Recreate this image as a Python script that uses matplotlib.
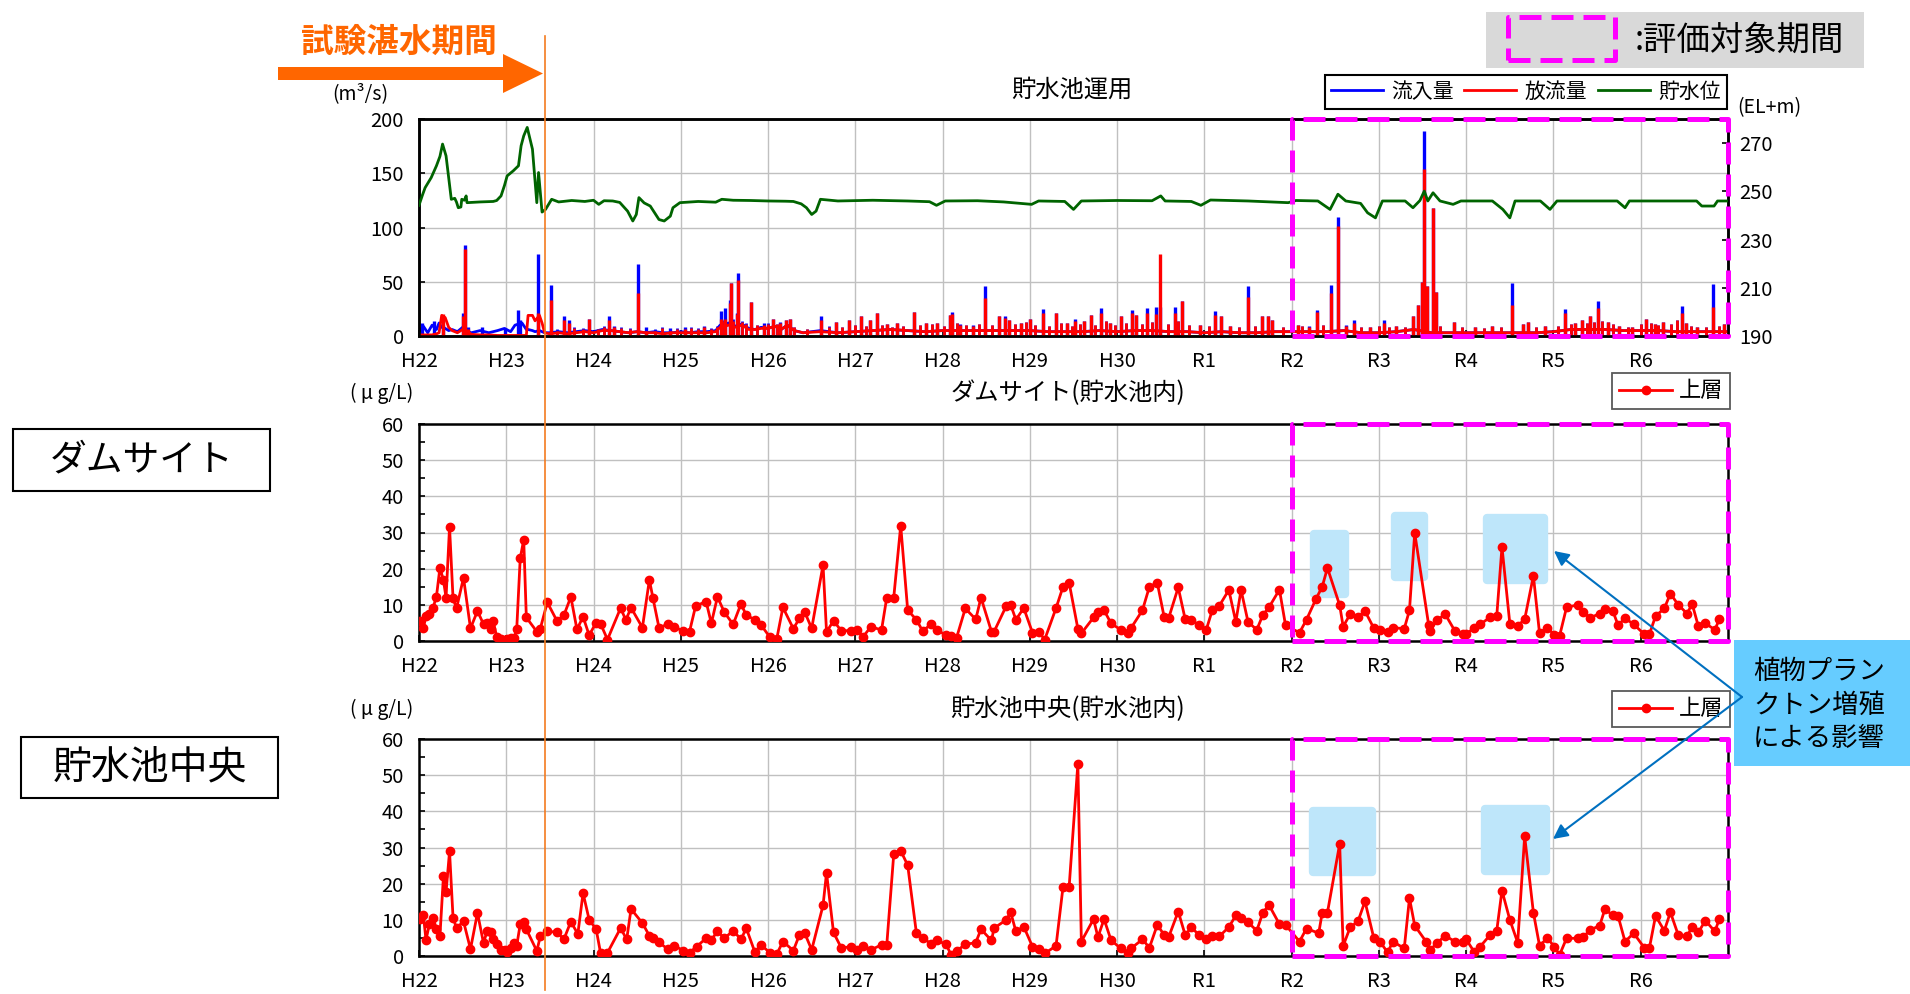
import matplotlib
matplotlib.use("Agg")
import matplotlib.pyplot as plt
from matplotlib.patches import Rectangle, FancyArrow, FancyArrowPatch
from matplotlib.lines import Line2D

plt.rcParams["font.family"] = ["Noto Sans CJK JP", "DejaVu Sans"]

W, H = 1910, 994


def fx(px):
    return px / W


def fy(py):
    return 1 - py / H


# ---------------------------------------------------------------- data
# x values are years counted from the start of H22
year_labels = ["H22", "H23", "H24", "H25", "H26", "H27", "H28", "H29", "H30",
               "R1", "R2", "R3", "R4", "R5", "R6"]

# daily flow, background level (m3/s)
flow_t = [0.00, 0.05, 0.10, 0.15, 0.20, 0.23, 0.26, 0.30, 0.34, 0.38,
          0.44, 0.50, 0.56, 0.60, 0.70, 0.80, 0.90, 0.98, 1.05, 1.10,
          1.18, 1.23, 1.25, 1.30, 1.33, 1.38, 1.41, 1.44, 1.50, 1.60,
          1.70, 1.80, 1.90, 2.00, 2.10, 2.20, 2.30, 2.40, 2.50, 2.60,
          2.70, 2.80, 2.90, 3.00, 3.10, 3.20, 3.30, 3.40, 3.45, 3.55,
          3.62, 3.70, 3.78, 3.85, 3.92, 4.00, 4.08, 4.15, 4.22, 4.30,
          4.40, 4.60, 4.80, 5.00, 5.20, 5.40, 5.60, 5.80, 6.00, 6.20,
          6.40, 6.60, 6.80, 7.00, 7.20, 7.40, 7.60, 7.80, 8.00, 8.20,
          8.40, 8.60, 8.80, 9.00, 9.20, 9.40, 9.60, 9.80, 10.00, 10.20,
          10.40, 10.60, 10.80, 11.00, 11.20, 11.40, 11.60, 11.80, 12.00, 12.20,
          12.40, 12.60, 12.80, 13.00, 13.20, 13.40, 13.60, 13.80, 14.00, 14.20,
          14.40, 14.60, 14.80, 15.00]
inflow_base = [4, 9, 3, 10, 6, 12, 8, 7, 5, 6,
               4, 8, 4, 3, 5, 3, 5, 7, 4, 10,
               12, 6, 6, 5, 4, 5, 4, 3, 3, 4,
               3, 4, 5, 4, 6, 5, 4, 3, 4, 3,
               4, 3, 3, 4, 3, 4, 4, 5, 10, 12,
               9, 11, 7, 6, 8, 7, 9, 6, 10, 5,
               3, 5, 3, 4, 5, 6, 5, 4, 5, 5,
               5, 5, 5, 5, 4, 4, 4, 5, 4, 5,
               5, 4, 4, 3, 4, 3, 3, 4, 4, 4,
               4, 5, 3, 3, 4, 6, 3, 3, 3, 3,
               3, 3, 3, 4, 6, 6, 6, 5, 5, 5,
               4, 4, 4, 4]
outflow_base = [1, 1, 1, 1, 2, 3, 19, 17, 8, 5,
                3, 6, 4, 1.5, 1, 1, 0.5, 0.5, 0.5, 0.5,
                0.5, 0.5, 19, 19, 14, 19, 12, 3, 2, 3,
                2, 3, 4, 3, 5, 5, 4, 3, 4, 3,
                3, 2, 3, 3, 3, 3, 3, 4, 8, 10,
                8, 10, 6, 6, 7, 7, 9, 6, 10, 5,
                3, 4, 3, 4, 5, 6, 5, 4, 5, 5,
                5, 5, 5, 5, 4, 4, 4, 5, 4, 5,
                5, 4, 4, 3, 4, 3, 3, 4, 4, 4,
                4, 5, 3, 3, 4, 6, 3, 3, 3, 3,
                3, 3, 3, 4, 6, 6, 6, 5, 5, 5,
                4, 4, 4, 4]

# flood peaks (m3/s)
peak_t = [0.04, 0.17, 0.28, 0.50, 0.53, 0.56, 0.72, 0.98, 1.13, 1.16,
          1.36, 1.51, 1.66, 1.72, 1.95, 2.18, 2.24, 2.51, 2.60, 2.88,
          3.05, 3.27, 3.46, 3.51, 3.56, 3.57, 3.64, 3.66, 3.81, 3.95,
          4.06, 4.14, 4.21, 4.25, 4.61, 4.78, 4.93, 5.06, 5.17, 5.25,
          5.36, 5.48, 5.67, 5.81, 5.94, 6.08, 6.11, 6.20, 6.35, 6.49,
          6.65, 6.71, 6.76, 6.90, 7.00, 7.15, 7.30, 7.42, 7.52, 7.62,
          7.70, 7.81, 7.92, 8.05, 8.17, 8.22, 8.34, 8.45, 8.49, 8.66,
          8.74, 8.95, 9.12, 9.19, 9.29, 9.50, 9.66, 9.73, 9.77, 10.07,
          10.20, 10.29, 10.45, 10.53, 10.62, 10.71, 10.90, 11.06, 11.20, 11.39,
          11.45, 11.49, 11.52, 11.55, 11.62, 11.65, 11.86, 12.10, 12.30, 12.53,
          12.65, 12.71, 12.90, 13.13, 13.25, 13.33, 13.42, 13.51, 13.62, 13.75,
          13.90, 14.06, 14.16, 14.25, 14.47, 14.52, 14.65, 14.83, 14.95]
inflow_peak = [12, 14, 10, 21, 84, 8, 8, 6, 24, 15,
               76, 47, 18, 15, 16, 18, 9, 66, 8, 7,
               8, 9, 23, 26, 33, 49, 21, 58, 31, 12,
               16, 13, 15, 16, 18, 13, 15, 18, 15, 21,
               11, 12, 22, 12, 12, 19, 22, 11, 10, 46,
               18, 18, 15, 12, 16, 25, 21, 12, 16, 14,
               19, 26, 12, 18, 24, 19, 26, 27, 27, 27,
               32, 10, 23, 18, 9, 46, 18, 18, 15, 10,
               9, 24, 47, 110, 10, 15, 8, 15, 9, 18,
               29, 50, 189, 46, 118, 41, 13, 8, 9, 49,
               11, 13, 9, 25, 12, 15, 18, 32, 13, 9,
               8, 16, 11, 13, 28, 12, 8, 48, 11]
outflow_peak = [0, 3, 20, 18, 80, 6, 1, 0, 1, 1,
                21, 33, 15, 12, 16, 15, 8, 40, 5, 5,
                6, 8, 16, 16, 30, 49, 20, 52, 31, 10,
                16, 12, 15, 16, 15, 13, 15, 18, 15, 21,
                11, 12, 22, 12, 12, 19, 20, 10, 9, 35,
                18, 17, 15, 12, 16, 21, 21, 12, 14, 14,
                19, 21, 12, 18, 21, 19, 21, 20, 76, 21,
                32, 10, 19, 18, 9, 36, 18, 18, 15, 10,
                8, 22, 40, 101, 9, 12, 8, 12, 9, 18,
                29, 50, 154, 46, 118, 41, 13, 8, 9, 29,
                11, 13, 9, 21, 12, 15, 18, 26, 13, 9,
                8, 16, 11, 13, 21, 12, 8, 27, 11]

# smaller freshets (m3/s)
fresh_t = [1.58, 1.78, 1.88, 2.05, 2.12, 2.32, 2.42, 2.70, 2.78, 2.96,
           3.12, 3.20, 3.35, 3.41, 3.49, 3.60, 3.70, 3.75, 3.87, 4.00,
           4.10, 4.30, 4.45, 4.70, 4.85, 5.00, 5.12, 5.30, 5.42, 5.55,
           5.74, 5.88, 6.02, 6.16, 6.27, 6.42, 6.57, 6.83, 6.95, 7.06,
           7.22, 7.36, 7.48, 7.57, 7.75, 7.87, 7.97, 8.10, 8.28, 8.40,
           8.58, 8.70, 8.82, 9.05, 9.40, 9.58, 9.90, 10.12, 10.36, 10.80,
           11.00, 11.12, 11.30, 11.70, 11.95, 12.20, 12.40, 12.80, 13.05, 13.20,
           13.38, 13.47, 13.56, 13.68, 13.85, 14.00, 14.12, 14.20, 14.35, 14.42,
           14.58, 14.75, 14.90]
fresh_in = [6, 8, 7, 6, 9, 8, 7, 6, 8, 7,
            8, 7, 7, 9, 15, 16, 14, 12, 10, 12,
            11, 8, 6, 9, 8, 10, 9, 10, 8, 9,
            10, 11, 9, 12, 10, 11, 10, 11, 13, 10,
            9, 12, 9, 11, 10, 14, 10, 12, 11, 13,
            11, 14, 10, 9, 8, 9, 8, 9, 10, 8,
            9, 8, 8, 9, 8, 7, 8, 8, 9, 11,
            12, 13, 14, 11, 8, 11, 12, 10, 11, 15,
            9, 8, 9]
fresh_out = [5, 7, 6, 6, 8, 7, 6, 5, 7, 6,
             7, 6, 6, 8, 14, 14, 13, 11, 10, 11,
             11, 8, 6, 8, 8, 10, 9, 10, 8, 9,
             10, 11, 9, 12, 10, 11, 10, 11, 13, 10,
             9, 12, 9, 11, 10, 14, 10, 12, 11, 13,
             11, 14, 10, 9, 8, 9, 8, 9, 10, 8,
             9, 8, 8, 9, 8, 7, 8, 8, 9, 11,
             12, 13, 14, 11, 8, 11, 12, 10, 11, 15,
             9, 8, 9]

# reservoir water level (EL+m)
level_t = [0.00, 0.04, 0.07, 0.14, 0.20, 0.24, 0.27, 0.31, 0.37, 0.41,
           0.43, 0.45, 0.48, 0.49, 0.52, 0.54, 0.55, 0.70, 0.85, 0.89,
           0.94, 0.98, 1.01, 1.08, 1.14, 1.17, 1.20, 1.24, 1.27, 1.30,
           1.35, 1.37, 1.41, 1.45, 1.52, 1.60, 1.75, 1.90, 2.00, 2.06,
           2.12, 2.22, 2.30, 2.39, 2.45, 2.49, 2.52, 2.58, 2.65, 2.75,
           2.81, 2.88, 2.91, 2.99, 3.20, 3.40, 3.47, 3.60, 3.80, 4.00,
           4.20, 4.29, 4.38, 4.44, 4.50, 4.55, 4.60, 4.80, 5.20, 5.60,
           5.85, 5.93, 6.03, 6.40, 6.70, 7.02, 7.10, 7.40, 7.50, 7.59,
           8.00, 8.40, 8.50, 8.55, 8.85, 8.96, 9.07, 9.50, 9.96, 10.05,
           10.30, 10.44, 10.53, 10.62, 10.79, 10.87, 10.96, 11.04, 11.30, 11.39,
           11.47, 11.52, 11.56, 11.62, 11.70, 11.85, 11.94, 12.30, 12.42, 12.50,
           12.56, 12.85, 12.96, 13.04, 13.73, 13.82, 13.87, 14.64, 14.70, 14.84,
           14.88, 15.00]
level = [244.2, 248.5, 251.5, 255.7, 260.6, 264.5, 269.6, 264.7, 246.7, 247.1,
         245.5, 243.2, 243.5, 246.7, 246.3, 248.1, 245.3, 245.6, 245.8, 246.2,
         248.1, 252.5, 256.4, 258.5, 260.6, 268.9, 273.0, 276.5, 272.0, 267.5,
         245.3, 257.8, 241.4, 242.5, 246.7, 245.6, 246.2, 245.8, 246.3, 244.6,
         246.1, 246.0, 245.4, 241.8, 237.7, 240.4, 247.4, 245.2, 243.9, 238.3,
         237.7, 239.7, 243.2, 245.3, 245.8, 245.5, 246.7, 246.3, 246.2, 246.0,
         245.9, 245.8, 244.8, 243.2, 240.4, 241.8, 246.7, 246.0, 246.3, 246.0,
         245.7, 244.2, 246.0, 246.1, 245.6, 244.6, 246.0, 245.8, 242.5, 246.0,
         246.2, 246.1, 248.1, 246.0, 245.8, 244.2, 246.4, 246.0, 245.3, 246.2,
         246.0, 242.5, 248.8, 246.0, 245.0, 241.1, 239.0, 246.0, 246.0, 243.2,
         246.2, 250.1, 246.0, 249.4, 246.0, 244.6, 246.0, 246.0, 242.5, 239.0,
         246.0, 246.0, 242.5, 246.0, 246.0, 243.2, 246.0, 246.0, 243.9, 243.9,
         246.0, 246.0]

# chlorophyll a, surface layer at the dam site (ug/L)
dam_t = [0.01, 0.05, 0.08, 0.12, 0.16, 0.20, 0.24, 0.28, 0.31, 0.35,
         0.39, 0.43, 0.51, 0.59, 0.67, 0.74, 0.78, 0.82, 0.85, 0.89,
         0.94, 1.01, 1.05, 1.09, 1.12, 1.16, 1.20, 1.23, 1.35, 1.39,
         1.47, 1.58, 1.66, 1.74, 1.81, 1.88, 1.95, 2.03, 2.08, 2.16,
         2.31, 2.37, 2.43, 2.56, 2.64, 2.68, 2.75, 2.85, 2.92, 3.02,
         3.10, 3.17, 3.29, 3.35, 3.42, 3.50, 3.60, 3.69, 3.75, 3.85,
         3.92, 4.02, 4.10, 4.17, 4.29, 4.36, 4.42, 4.50, 4.63, 4.67,
         4.75, 4.84, 4.95, 5.02, 5.09, 5.18, 5.30, 5.36, 5.44, 5.52,
         5.60, 5.70, 5.77, 5.87, 5.94, 6.04, 6.10, 6.16, 6.26, 6.38,
         6.44, 6.56, 6.59, 6.73, 6.78, 6.84, 6.93, 7.03, 7.10, 7.17,
         7.30, 7.38, 7.45, 7.55, 7.59, 7.73, 7.78, 7.85, 7.93, 8.04,
         8.12, 8.16, 8.29, 8.37, 8.46, 8.54, 8.59, 8.70, 8.78, 8.85,
         8.94, 9.02, 9.09, 9.17, 9.28, 9.36, 9.42, 9.50, 9.60, 9.67,
         9.74, 9.86, 9.93, 10.09, 10.17, 10.28, 10.35, 10.41, 10.55, 10.59,
         10.67, 10.76, 10.84, 10.94, 11.01, 11.10, 11.16, 11.29, 11.35, 11.41,
         11.57, 11.59, 11.66, 11.76, 11.87, 11.96, 12.00, 12.09, 12.16, 12.27,
         12.35, 12.41, 12.50, 12.59, 12.67, 12.77, 12.84, 12.93, 13.01, 13.07,
         13.15, 13.28, 13.34, 13.42, 13.53, 13.59, 13.68, 13.74, 13.82, 13.92,
         14.04, 14.10, 14.17, 14.27, 14.34, 14.43, 14.53, 14.59, 14.66, 14.74,
         14.85, 14.90]
dam_chl = [5.4, 3.5, 6.9, 7.6, 9.1, 12.3, 20.3, 16.8, 12.0, 31.5,
           11.8, 9.0, 17.5, 3.5, 8.3, 4.6, 5.1, 3.4, 5.5, 1.2,
           0.6, 0.6, 0.9, 0.7, 3.4, 22.9, 28.0, 6.5, 2.6, 3.4,
           10.7, 5.6, 7.1, 12.2, 3.2, 6.7, 1.6, 5.1, 4.8, 0.4,
           9.1, 5.8, 9.2, 3.7, 16.9, 12.0, 3.7, 4.6, 4.0, 2.8,
           2.6, 9.7, 10.9, 4.9, 12.2, 7.9, 4.6, 10.3, 7.1, 5.9,
           4.4, 1.1, 0.6, 9.3, 3.4, 6.3, 8.0, 3.5, 21.0, 2.5,
           5.6, 2.8, 2.9, 3.0, 1.2, 4.0, 3.0, 12.0, 12.0, 31.9,
           8.5, 5.9, 2.8, 4.6, 3.0, 1.6, 1.3, 0.9, 9.0, 6.0,
           12.0, 2.6, 2.6, 9.7, 10.0, 5.9, 9.1, 2.3, 2.6, 0.4,
           9.1, 15.0, 16.1, 3.4, 2.1, 6.5, 8.1, 8.5, 4.9, 3.1,
           2.2, 3.6, 8.5, 15.0, 16.1, 6.5, 6.3, 14.8, 6.0, 5.8,
           4.4, 3.0, 8.5, 9.7, 14.1, 5.3, 14.1, 5.3, 3.1, 7.2,
           9.3, 14.2, 4.3, 2.3, 5.9, 11.7, 15.0, 20.2, 9.9, 4.0,
           7.4, 6.6, 8.3, 3.6, 3.1, 2.4, 3.7, 3.4, 8.5, 29.9,
           4.4, 2.7, 5.7, 7.4, 2.8, 1.8, 1.9, 3.6, 4.6, 6.5,
           6.9, 26.0, 4.8, 4.2, 6.0, 18.0, 2.2, 3.7, 1.7, 1.4,
           9.3, 10.0, 8.1, 6.4, 7.6, 8.8, 8.3, 4.4, 6.3, 4.6,
           1.9, 1.9, 6.9, 9.0, 13.1, 10.0, 7.6, 10.2, 4.1, 4.9,
           3.1, 6.0]

# chlorophyll a, surface layer at the reservoir centre (ug/L)
centre_t = [0.01, 0.05, 0.08, 0.12, 0.16, 0.20, 0.24, 0.28, 0.31, 0.35,
            0.39, 0.43, 0.51, 0.59, 0.67, 0.74, 0.78, 0.82, 0.85, 0.89,
            0.94, 0.98, 1.01, 1.05, 1.09, 1.12, 1.16, 1.20, 1.23, 1.35,
            1.39, 1.47, 1.58, 1.66, 1.74, 1.82, 1.88, 1.95, 2.03, 2.08,
            2.16, 2.31, 2.38, 2.43, 2.56, 2.64, 2.68, 2.75, 2.85, 2.92,
            3.03, 3.10, 3.18, 3.29, 3.35, 3.42, 3.50, 3.60, 3.69, 3.75,
            3.85, 3.92, 4.02, 4.10, 4.17, 4.29, 4.36, 4.42, 4.50, 4.63,
            4.67, 4.75, 4.84, 4.95, 5.02, 5.09, 5.18, 5.30, 5.36, 5.44,
            5.52, 5.60, 5.70, 5.77, 5.87, 5.94, 6.04, 6.10, 6.16, 6.26,
            6.38, 6.44, 6.56, 6.59, 6.73, 6.78, 6.84, 6.93, 7.03, 7.10,
            7.17, 7.30, 7.38, 7.45, 7.55, 7.59, 7.73, 7.78, 7.85, 7.93,
            8.04, 8.12, 8.16, 8.29, 8.37, 8.46, 8.54, 8.59, 8.70, 8.78,
            8.85, 8.94, 9.02, 9.09, 9.17, 9.28, 9.36, 9.42, 9.50, 9.60,
            9.67, 9.74, 9.86, 9.93, 10.09, 10.17, 10.31, 10.35, 10.41, 10.55,
            10.59, 10.67, 10.76, 10.84, 10.94, 11.01, 11.10, 11.16, 11.29, 11.35,
            11.41, 11.54, 11.59, 11.66, 11.76, 11.87, 11.96, 12.00, 12.09, 12.16,
            12.27, 12.35, 12.41, 12.50, 12.59, 12.67, 12.77, 12.84, 12.93, 13.01,
            13.07, 13.15, 13.28, 13.34, 13.42, 13.53, 13.59, 13.68, 13.74, 13.82,
            13.92, 14.04, 14.10, 14.17, 14.27, 14.34, 14.43, 14.53, 14.59, 14.66,
            14.74, 14.85, 14.90]
centre_chl = [10.2, 11.3, 4.5, 8.8, 10.5, 7.6, 5.6, 22.0, 17.7, 28.9,
              10.6, 7.7, 9.6, 1.9, 11.9, 3.5, 7.0, 6.5, 4.6, 3.2,
              1.7, 1.7, 1.2, 2.1, 3.5, 2.9, 8.8, 9.4, 7.4, 1.4,
              5.4, 6.8, 6.6, 4.6, 9.5, 6.1, 17.4, 10.0, 7.4, 0.9,
              0.9, 7.7, 4.6, 13.0, 9.1, 5.6, 5.1, 3.8, 1.9, 2.9,
              1.5, 0.9, 2.6, 4.9, 4.4, 6.9, 4.9, 7.0, 4.6, 7.7,
              1.0, 3.1, 0.9, 0.5, 4.0, 1.5, 5.9, 6.3, 1.7, 14.0,
              23.0, 6.5, 2.2, 2.6, 1.7, 2.9, 1.7, 3.1, 3.0, 28.1,
              29.1, 25.1, 6.3, 5.1, 3.3, 4.3, 3.2, 0.2, 1.4, 3.2,
              3.7, 7.4, 4.3, 7.7, 10.0, 12.1, 6.8, 8.1, 2.6, 1.9,
              0.7, 2.8, 19.1, 19.1, 53.1, 4.0, 10.2, 5.2, 10.2, 4.4,
              2.1, 0.7, 2.1, 4.6, 2.3, 8.6, 5.8, 5.2, 12.3, 5.8,
              7.9, 5.8, 4.6, 5.6, 5.4, 8.0, 11.2, 10.4, 9.3, 7.0,
              12.0, 14.1, 8.8, 8.6, 4.0, 7.6, 6.3, 12.0, 12.0, 31.0,
              2.8, 7.9, 9.6, 15.1, 5.1, 4.0, 1.0, 4.0, 2.1, 16.0,
              8.4, 4.0, 1.7, 3.5, 5.6, 4.0, 4.0, 4.6, 1.2, 2.6,
              5.7, 7.0, 18.1, 10.0, 3.7, 33.1, 12.0, 2.9, 4.9, 2.6,
              0.3, 4.9, 4.9, 5.2, 7.2, 8.4, 13.0, 11.2, 11.1, 4.0,
              6.3, 2.3, 2.3, 11.1, 7.0, 12.1, 5.8, 5.4, 8.1, 6.5,
              9.8, 6.8, 10.2]

# periods
test_fill_end = 1.43          # end of trial impoundment
eval_start, eval_end = 10, 15  # evaluation period R2-R6

# ---------------------------------------------------------------- styles
BLUE = "#0000FF"
RED = "#FF0000"
GREEN = "#006400"
MAGENTA = "#FF00FF"
ORANGE = "#FF6600"
LIGHT = "#BEE6FA"
CALLOUT = "#66CCFF"
ARROW_BLUE = "#0070C0"
DASH = (0, (4.4, 2.0))
TICK_SIZE = 14.5
TITLE_SIZE = 17.5

fig = plt.figure(figsize=(W / 100, H / 100), dpi=100)

LEFT, RIGHT = 419, 1728


def axes_box(top, bottom):
    return [fx(LEFT), fy(bottom), (RIGHT - LEFT) / W, (bottom - top) / H]


def base_style(ax, ymax, ystep):
    ax.set_xlim(0, 15)
    ax.set_xticks(range(15))
    ax.set_xticklabels(year_labels)
    ax.set_ylim(0, ymax)
    ax.set_yticks(range(0, ymax + 1, ystep))
    ax.grid(True, color="#C0C0C0", lw=1.0)
    ax.set_axisbelow(True)
    for s in ax.spines.values():
        s.set_color("black")
        s.set_linewidth(1.8)
    ax.tick_params(axis="both", direction="in", length=4, width=1.2,
                   labelsize=TICK_SIZE)
    ax.tick_params(axis="x", pad=11)
    ax.tick_params(axis="y", pad=11)


def eval_frame(ax):
    ax.add_patch(Rectangle((eval_start, 0), eval_end - eval_start, 1,
                           transform=ax.get_xaxis_transform(), fill=False,
                           edgecolor=MAGENTA, lw=3.6, ls=DASH,
                           joinstyle="round", clip_on=False, zorder=20))


# ---------------------------------------------------------------- reservoir operation
ax_q = fig.add_axes(axes_box(119, 336))
base_style(ax_q, 200, 50)
ax_q.plot(flow_t, inflow_base, color=BLUE, lw=2.0, zorder=2)
ax_q.vlines(peak_t, 0, inflow_peak, colors=BLUE, lw=2.4, zorder=2)
ax_q.vlines(fresh_t, 0, fresh_in, colors=BLUE, lw=2.0, zorder=2)
ax_q.plot(flow_t, outflow_base, color=RED, lw=2.0, zorder=3)
ax_q.vlines(peak_t, 0, outflow_peak, colors=RED, lw=2.4, zorder=3)
ax_q.vlines(fresh_t, 0, fresh_out, colors=RED, lw=2.0, zorder=3)

ax_lvl = ax_q.twinx()
ax_lvl.set_ylim(190, 280)
ax_lvl.set_yticks([190, 210, 230, 250, 270])
ax_lvl.tick_params(axis="y", direction="in", length=4, width=1.2,
                   labelsize=TICK_SIZE, pad=8)
for s in ax_lvl.spines.values():
    s.set_color("black")
    s.set_linewidth(1.8)
ax_lvl.plot(level_t, level, color=GREEN, lw=2.0, zorder=4)
eval_frame(ax_lvl)

leg = ax_lvl.legend(
    [Line2D([], [], color=BLUE, lw=2), Line2D([], [], color=RED, lw=2),
     Line2D([], [], color=GREEN, lw=2)],
    ["流入量", "放流量", "貯水位"], loc="lower right",
    bbox_to_anchor=(fx(1727), fy(109)), bbox_transform=fig.transFigure,
    ncol=3, fontsize=15, frameon=True, fancybox=False, edgecolor="black",
    framealpha=1, handlelength=2.5, handletextpad=0.4, columnspacing=0.5,
    borderpad=0.3, borderaxespad=0)
leg.get_frame().set_linewidth(1.5)

fig.text(fx(1072), fy(90), "貯水池運用", ha="center", va="center",
         fontsize=TITLE_SIZE)
fig.text(fx(360), fy(94), "(m³/s)", ha="center", va="center", fontsize=14)
fig.text(fx(1769), fy(108), "(EL+m)", ha="center", va="center", fontsize=14)


# ---------------------------------------------------------------- chlorophyll panels
def chl_panel(top, bottom, t, v, title, title_y, legend_bottom, boxes):
    ax = fig.add_axes(axes_box(top, bottom))
    base_style(ax, 60, 10)
    ax.set_yticks(range(5, 60, 10), minor=True)
    ax.tick_params(axis="y", which="minor", direction="in", length=4,
                   width=1.2)
    for (x0, x1, y0, y1) in boxes:
        ax.add_patch(Rectangle((x0, y0), x1 - x0, y1 - y0, facecolor=LIGHT,
                               edgecolor=LIGHT, lw=6, joinstyle="round",
                               zorder=1.5))
    ax.plot(t, v, color=RED, lw=2.0, marker="o", ms=6, zorder=3)
    eval_frame(ax)
    lg = ax.legend([Line2D([], [], color=RED, lw=2, marker="o", ms=6)],
                   ["上層"], loc="lower right",
                   bbox_to_anchor=(fx(1730), fy(legend_bottom)),
                   bbox_transform=fig.transFigure, fontsize=16, frameon=True,
                   fancybox=False, edgecolor="#595959", framealpha=1,
                   handlelength=2.4, handletextpad=0.3, borderpad=0.3,
                   borderaxespad=0)
    lg.get_frame().set_linewidth(1.3)
    fig.text(fx(1068), fy(title_y), title, ha="center", va="center",
             fontsize=TITLE_SIZE)
    fig.text(fx(382), fy(title_y), "( μ g/L)", ha="center", va="center",
             fontsize=14)
    return ax


ax_d = chl_panel(424, 641, dam_t, dam_chl, "ダムサイト(貯水池内)", 393, 409,
                 [(10.26, 10.61, 12.9, 29.6), (11.18, 11.52, 17.8, 34.7),
                  (12.24, 12.89, 17.0, 33.9)])
ax_c = chl_panel(739, 956, centre_t, centre_chl, "貯水池中央(貯水池内)", 709,
                 727, [(10.24, 10.92, 23.1, 40.1), (12.21, 12.91, 23.6, 40.6)])

# ---------------------------------------------------------------- annotations
# trial impoundment marker
fig.add_artist(Line2D([fx(544.5), fx(544.5)], [fy(36), fy(990)],
                      transform=fig.transFigure, color="#F47B20", lw=1.2,
                      zorder=30))
fig.add_artist(FancyArrow(fx(278), fy(73.5), fx(543) - fx(278), 0,
                          width=13 / H, head_width=39 / H, head_length=40 / W,
                          length_includes_head=True, transform=fig.transFigure,
                          color=ORANGE, lw=0, zorder=30))
fig.text(fx(399), fy(42), "試験湛水期間", ha="center", va="center",
         fontsize=23.5, fontweight="bold", color=ORANGE)

# evaluation period key
fig.add_artist(Rectangle((fx(1486), fy(68)), (1864 - 1486) / W, 56 / H,
                         transform=fig.transFigure, facecolor="#D9D9D9",
                         edgecolor="none", zorder=1))
fig.add_artist(Rectangle((fx(1508), fy(60)), 107 / W, 43 / H,
                         transform=fig.transFigure, fill=False,
                         edgecolor=MAGENTA, lw=3.6, ls=DASH,
                         joinstyle="round", zorder=2))
fig.text(fx(1635), fy(40), ":評価対象期間", ha="left", va="center", fontsize=24)

# station labels
for (x0, x1, y0, y1, label, size) in [(13, 270, 429, 491, "ダムサイト", 26.5),
                                      (21, 278, 737, 798, "貯水池中央", 28)]:
    fig.add_artist(Rectangle((fx(x0), fy(y1)), (x1 - x0) / W, (y1 - y0) / H,
                             transform=fig.transFigure, fill=False,
                             edgecolor="black", lw=1.5))
    fig.text(fx((x0 + x1) / 2), fy((y0 + y1) / 2), label, ha="center",
             va="center", fontsize=size)

# phytoplankton callout
fig.add_artist(Rectangle((fx(1734), fy(766)), (1910 - 1734) / W, 126 / H,
                         transform=fig.transFigure, facecolor=CALLOUT,
                         edgecolor="none", zorder=25))
fig.text(fx(1819), fy(705), "植物プラン\nクトン増殖\nによる影響", ha="center",
         va="center", fontsize=19, linespacing=1.3, zorder=26)
for tip in [(1554, 551), (1553, 839)]:
    fig.add_artist(FancyArrowPatch((fx(1742), fy(697)), (fx(tip[0]), fy(tip[1])),
                                   transform=fig.transFigure, arrowstyle="-|>",
                                   mutation_scale=22, color=ARROW_BLUE, lw=1.5,
                                   shrinkA=0, shrinkB=0, zorder=27))

fig.savefig("out.png", dpi=100)
